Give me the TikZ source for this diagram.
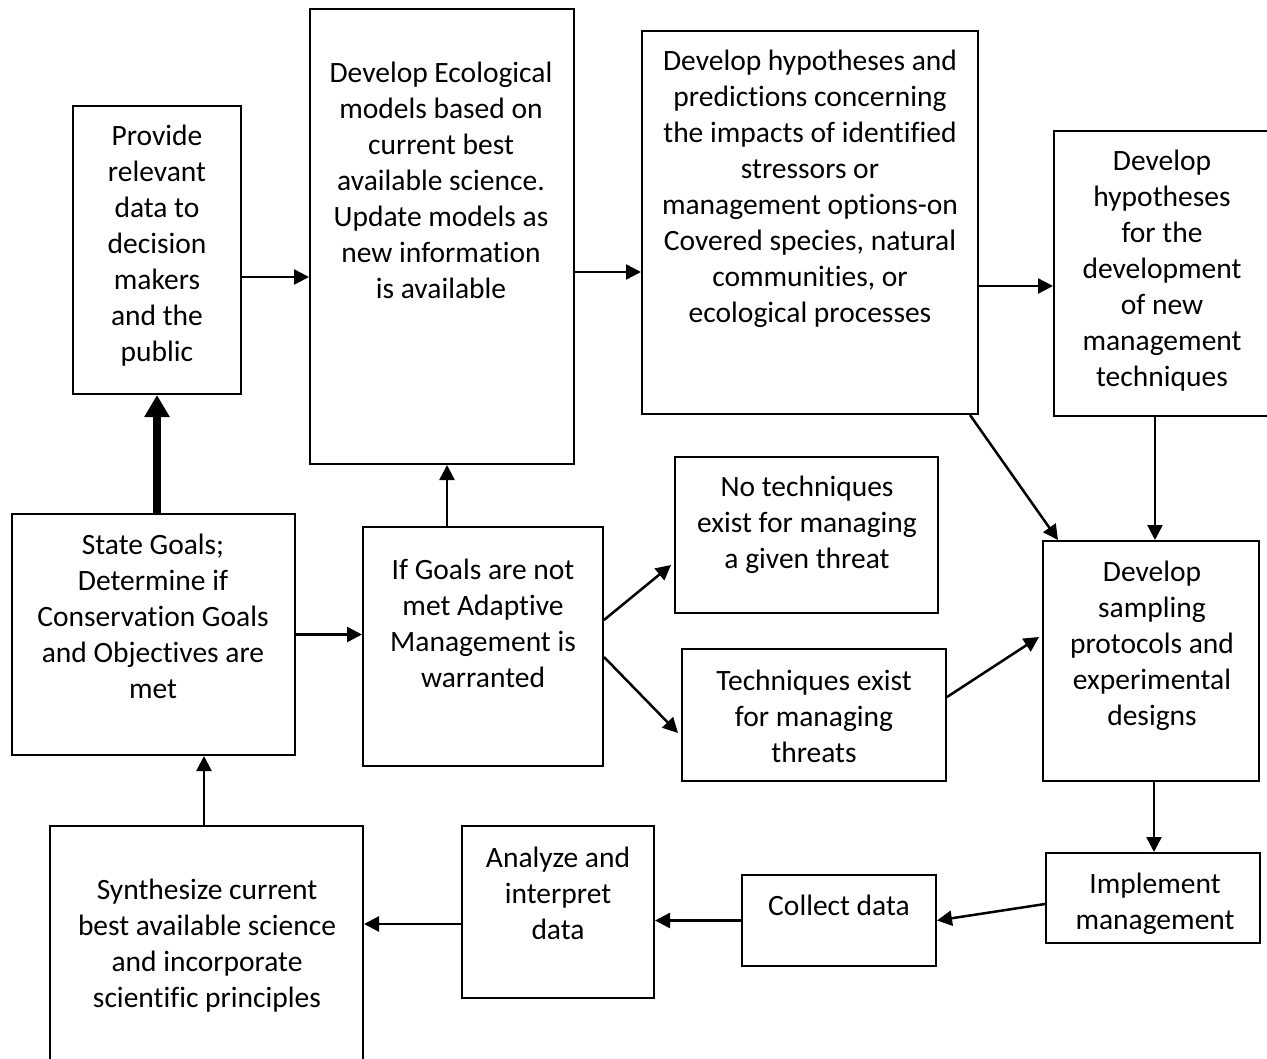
\documentclass[tikz,border=0pt]{standalone}
\usepackage{fontspec}
\setmainfont{Carlito}[Ligatures=CommonOff]
\usepackage{tikz}
\usetikzlibrary{arrows.meta}

\begin{document}
\begin{tikzpicture}[x=1pt, y=-1pt,
    box/.style={draw, line width=2pt, inner sep=0pt},
    txt/.style={align=center, inner sep=0pt, font=\fontsize{29.5}{36}\selectfont},
    arr/.style={line width=2.5pt, -{Triangle[length=15pt,width=15pt]}},
    bigarr/.style={line width=8pt, -{Triangle[length=22pt,width=24pt]}}]
        \clip (0,0) rectangle (1267,1059);
        \fill[white] (0,0) rectangle (1267,1059);
        % Top row
        \node[box, minimum width=168pt, minimum height=288pt] (prov) at (157,250) {};
        \node[txt] (provtext) at (157,246) {Provide\\relevant\\data to\\decision\\makers\\and the\\public};
        \node[box, minimum width=264pt, minimum height=455pt] (eco) at (442,236.5) {};
        \node[txt] (ecotext) at (441,180.5) {Develop Ecological\\models based on\\current best\\available science.\\Update models as\\new information\\is available};
        \node[box, minimum width=336pt, minimum height=383pt] (hyp) at (810,222.5) {};
        \node[txt] (hyptext) at (810,188.5) {Develop hypotheses and\\predictions concerning\\the impacts of identified\\stressors or\\management options-on\\Covered species, natural\\communities, or\\ecological processes};
        \node[box, minimum width=216pt, minimum height=285pt] (newt) at (1162,273.5) {};
        \node[txt] (newttext) at (1162,271) {Develop\\hypotheses\\for the\\development\\of new\\management\\techniques};
        % Middle row
        \node[box, minimum width=283pt, minimum height=241pt] (goals) at (153.5,634.5) {};
        \node[txt] (goalstext) at (153,616) {State Goals;\\Determine if\\Conservation Goals\\and Objectives are\\met};
        \node[box, minimum width=240pt, minimum height=239pt] (adapt) at (483,646.5) {};
        \node[txt] (adapttext) at (483,623.5) {If Goals are not\\met Adaptive\\Management is\\warranted};
        \node[box, minimum width=263pt, minimum height=156pt] (notech) at (806.5,535) {};
        \node[txt] (notechtext) at (807,525) {No techniques\\exist for managing\\a given threat};
        \node[box, minimum width=264pt, minimum height=132pt] (tech) at (814,715) {};
        \node[txt] (techtext) at (814,716) {Techniques exist\\for managing\\threats};
        \node[box, minimum width=216pt, minimum height=240pt] (samp) at (1151,661) {};
        \node[txt] (samptext) at (1152,646) {Develop\\sampling\\protocols and\\experimental\\designs};
        % Bottom row
        \node[box, minimum width=214pt, minimum height=90pt] (impl) at (1153,898) {};
        \node[txt] (impltext) at (1155,903.5) {Implement\\management};
        \node[box, minimum width=194pt, minimum height=91pt] (collect) at (839,920.5) {};
        \node[txt] (collecttext) at (839,905) {Collect data};
        \node[box, minimum width=192pt, minimum height=172pt] (analyze) at (558,912) {};
        \node[txt] (analyzetext) at (558,893.5) {Analyze and\\interpret\\data};
        \node[box, minimum width=313pt, minimum height=260pt] (synth) at (206.5,956) {};
        \node[txt] (synthtext) at (207,945.5) {Synthesize current\\best available science\\and incorporate\\scientific principles};
        % Arrows
        \draw[bigarr] (prov.south |- goals.north) -- (prov.south);
        \draw[arr] ([yshift=-27pt]prov.east) -- ([yshift=-27pt]prov.east -| eco.west);
        \draw[arr] ([yshift=-35.5pt]eco.east) -- ([yshift=-35.5pt]eco.east -| hyp.west);
        \draw[arr] ([yshift=-63.5pt]hyp.east) -- ([yshift=-63.5pt]hyp.east -| newt.west);
        \draw[arr] ([xshift=-36pt]adapt.north) -- ([xshift=-36pt]adapt.north |- eco.south);
        \draw[arr] (goals.east) -- (goals.east -| adapt.west);
        \draw[arr] ([yshift=26.5pt]adapt.east) -- ([xshift=-3pt,yshift=-30pt]notech.west);
        \draw[arr] ([yshift=-10.5pt]adapt.east) -- ([xshift=-3pt,yshift=-18pt]tech.west);
        \draw[arr] ([yshift=18pt]tech.east) -- ([xshift=-3pt,yshift=24pt]samp.west);
        \draw[arr] ([xshift=160pt]hyp.south) -- ([xshift=-93pt]samp.north);
        \draw[arr] ([xshift=-7pt]newt.south) -- ([xshift=-7pt]newt.south |- samp.north);
        \draw[arr] ([xshift=3pt]samp.south) -- ([xshift=3pt]samp.south |- impl.north);
        \draw[arr] ([yshift=-6pt]impl.west) -- (collect.east);
        \draw[arr] (collect.west) -- (collect.west -| analyze.east);
        \draw[arr] ([yshift=-12pt]analyze.west) -- ([yshift=-12pt]analyze.west -| synth.east);
        \draw[arr] ([xshift=-2.5pt]synth.north) -- ([xshift=-2.5pt]synth.north |- goals.south);
\end{tikzpicture}
\end{document}
